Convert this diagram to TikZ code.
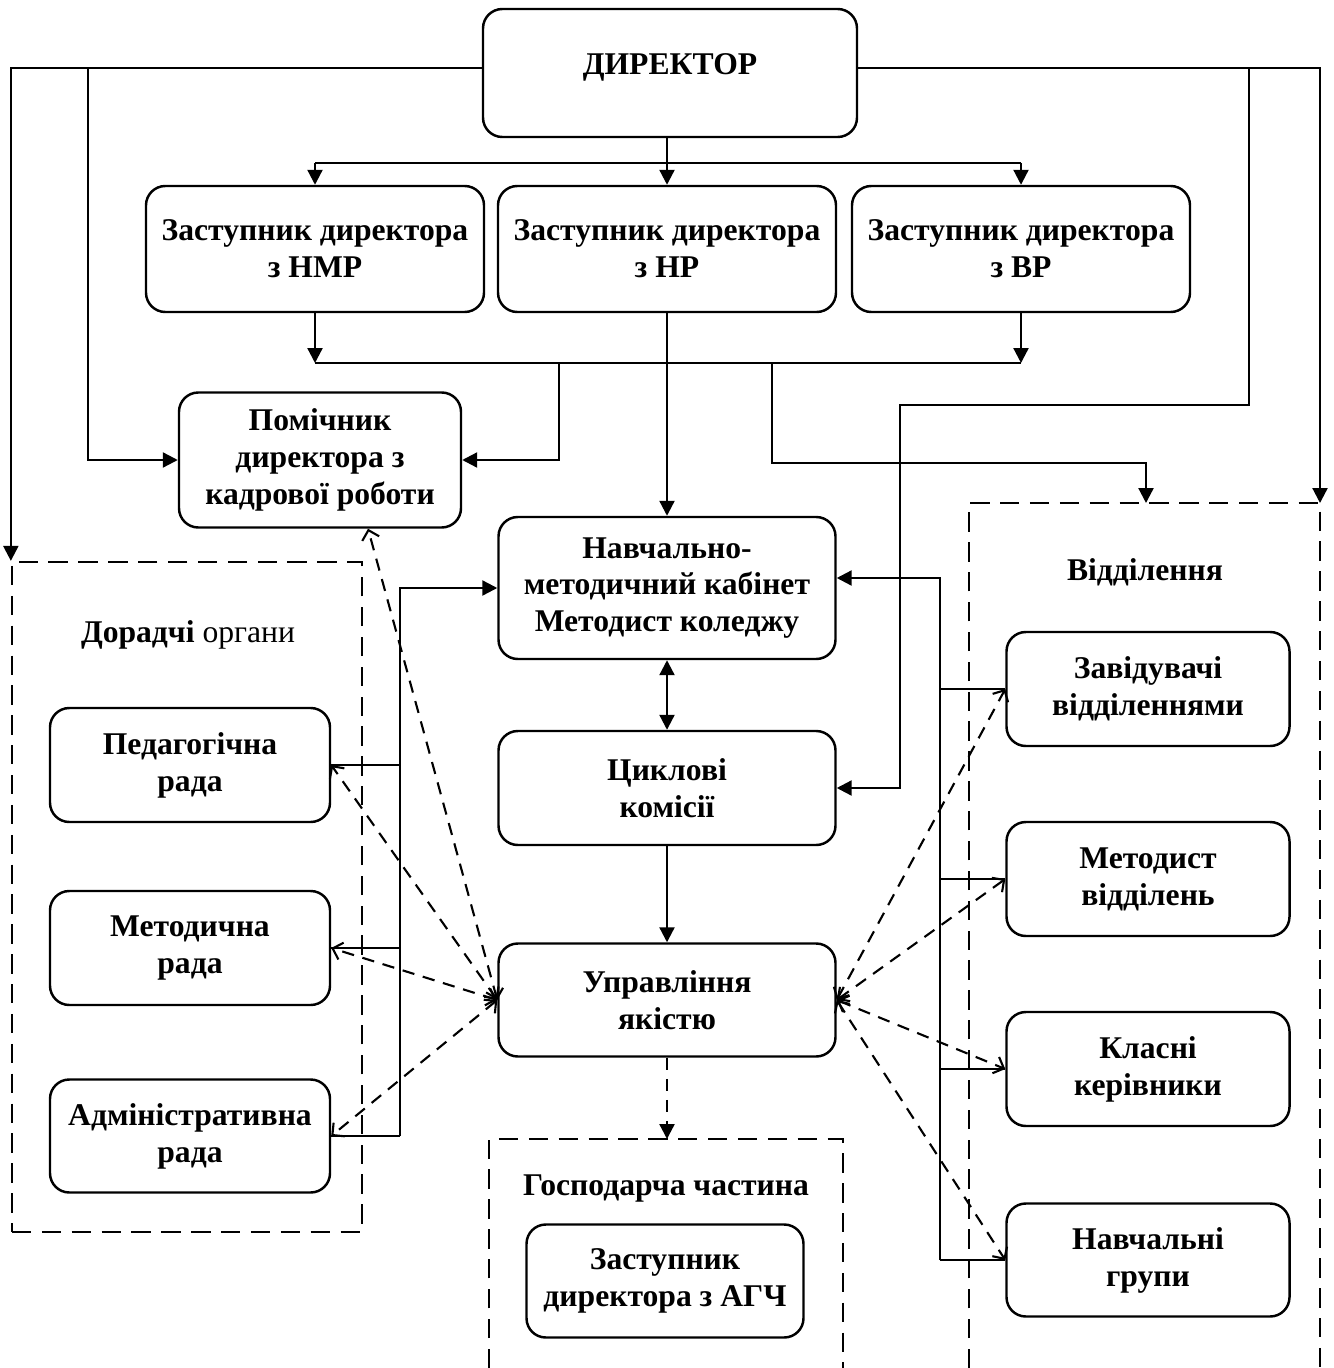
\documentclass[tikz,border=0pt]{standalone}
\usepackage{fontspec}
\setmainfont{Liberation Serif}
\usetikzlibrary{arrows.meta,calc}

\begin{document}
\begin{tikzpicture}[x=0.02cm,y=-0.02cm,
    box/.style={
      draw,
      rounded corners=11pt,
      line width=1.4pt,
      align=center,
      font=\fontsize{18}{21}\selectfont\bfseries
    },
    sz/.style 2 args={minimum width=#1*0.02cm,minimum height=#2*0.02cm},
    grp/.style={draw,line width=1.3pt,dash pattern=on 11pt off 6pt},
    ttl/.style={font=\fontsize{18}{21}\selectfont\bfseries},
    conn/.style={line width=1.3pt},
    dconn/.style={
      line width=1.2pt,
      dash pattern=on 7pt off 5pt,
      {Straight Barb[length=5pt,width=10pt]}-{Straight Barb[length=5pt,width=10pt]}
    },
    >={Triangle[length=8.5pt,width=8.5pt]}
  ]
  \useasboundingbox (0,0) rectangle (1333,1368);

  \node[box,sz={374}{128}] (dir) at (670,73) {\raisebox{3pt}[\height][\depth]{ДИРЕКТОР}};
  \node[box,sz={338}{126}] (zhmp) at (315,249) {Заступник директора\\з НМР};
  \node[box,sz={338}{126}] (zhp) at (667,249) {Заступник директора\\з НР};
  \node[box,sz={338}{126}] (zvr) at (1021,249) {Заступник директора\\з ВР};
  \node[box,sz={282}{135}] (pom) at (320,460) {Помічник\\директора з\\кадрової роботи};
  \node[box,sz={337}{142}] (nmk) at (667,588) {Навчально-\\методичний кабінет\\Методист коледжу};
  \node[box,sz={337}{114}] (cyc) at (667,788) {Циклові\\комісії};
  \node[box,sz={337}{113}] (upr) at (667,1000) {Управління\\якістю};

  \node[grp,sz={350}{670}] (dor) at (187,897) {};
  \node[ttl] (dorlbl) at (188,635) {Дорадчі \mdseries органи};
  \node[box,sz={280}{114}] (ped) at (190,765) {Педагогічна\\рада};
  \node[box,sz={280}{114}] (mrd) at (190,948) {Методична\\рада};
  \node[box,sz={280}{113}] (adm) at (190,1136) {Адміністративна\\рада};

  \coordinate (gsp) at (667,1139);
  \draw[grp] (489,1368) |- (gsp) -| (843,1368);
  \node[ttl] (gsplbl) at (666,1188) {Господарча частина};
  \node[box,sz={277}{113}] (agc) at (665,1281) {Заступник\\директора з АГЧ};

  \coordinate (vidtop) at (1146,503);
  \coordinate (vidne) at (1320,503);
  \draw[grp] (969,1368) |- (vidne) -- (1320,1368);
  \node[ttl] (vidlbl) at (1145,572) {Відділення};
  \node[box,sz={283}{114}] (zav) at (1148,689) {Завідувачі\\відділеннями};
  \node[box,sz={283}{114}] (metv) at (1148,879) {Методист\\відділень};
  \node[box,sz={283}{114}] (kl) at (1148,1069) {Класні\\керівники};
  \node[box,sz={283}{113}] (ng) at (1148,1260) {Навчальні\\групи};

  \coordinate (b1) at (0,163);
  \coordinate (b2) at (0,363);
  \coordinate (b3) at (0,463);
  \coordinate (dl) at (88,68);
  \coordinate (dr) at (1249,68);
  \coordinate (p1) at (559,363);
  \coordinate (p2) at (772,363);
  \coordinate (lb) at (400,0);
  \coordinate (rb) at (940,0);

  \draw[conn,->] ($(dir.west)+(0,-5)$) -| (dor.north west);
  \draw[conn,->] (dl) |- (pom.west);
  \draw[conn,->] ($(dir.east)+(0,-5)$) -| (vidne);
  \draw[conn,->] (dr) |- (900,405) |- (cyc.east);

  \draw[conn,->] (dir.south -| zhp.north) -- (zhp.north);
  \draw[conn] (zhmp.north |- b1) -- (zvr.north |- b1);
  \foreach \n in {zhmp,zvr}
    \draw[conn,->] (\n.north |- b1) -- (\n.north);

  \draw[conn] (zhmp.south |- b2) -- (zvr.south |- b2);
  \foreach \n in {zhmp,zvr}
    \draw[conn,->] (\n.south) -- (\n.south |- b2);
  \draw[conn,->] (zhp.south) -- (nmk.north);
  \draw[conn,->] (p1) |- (pom.east);
  \draw[conn,->] (p2) |- (b3 -| vidtop) -- (vidtop);

  \draw[conn,->] (lb |- adm.east) -- (lb |- nmk.west) -- (nmk.west);
  \foreach \n in {ped,mrd,adm}
    \draw[conn] (lb |- \n.east) -- (\n.east);
  \draw[conn,->] (rb |- ng.west) -- ($(rb |- nmk.east)+(0,-10)$) -- ($(nmk.east)+(0,-10)$);
  \foreach \n in {zav,metv,kl,ng}
    \draw[conn] (rb |- \n.west) -- (\n.west);

  \draw[conn,<->] (nmk.south) -- (cyc.north);
  \draw[conn,->] (cyc.south) -- (upr.north);
  \draw[conn,->,dash pattern=on 7pt off 5pt] (upr.south) -- (gsp);

  \draw[dconn] (upr.west) -- ($(pom.south)+(48,0)$);
  \foreach \n in {ped,mrd,adm}
    \draw[dconn] (upr.west) -- (\n.east);
  \foreach \n in {zav,metv,kl,ng}
    \draw[dconn] (upr.east) -- (\n.west);
\end{tikzpicture}
\end{document}
